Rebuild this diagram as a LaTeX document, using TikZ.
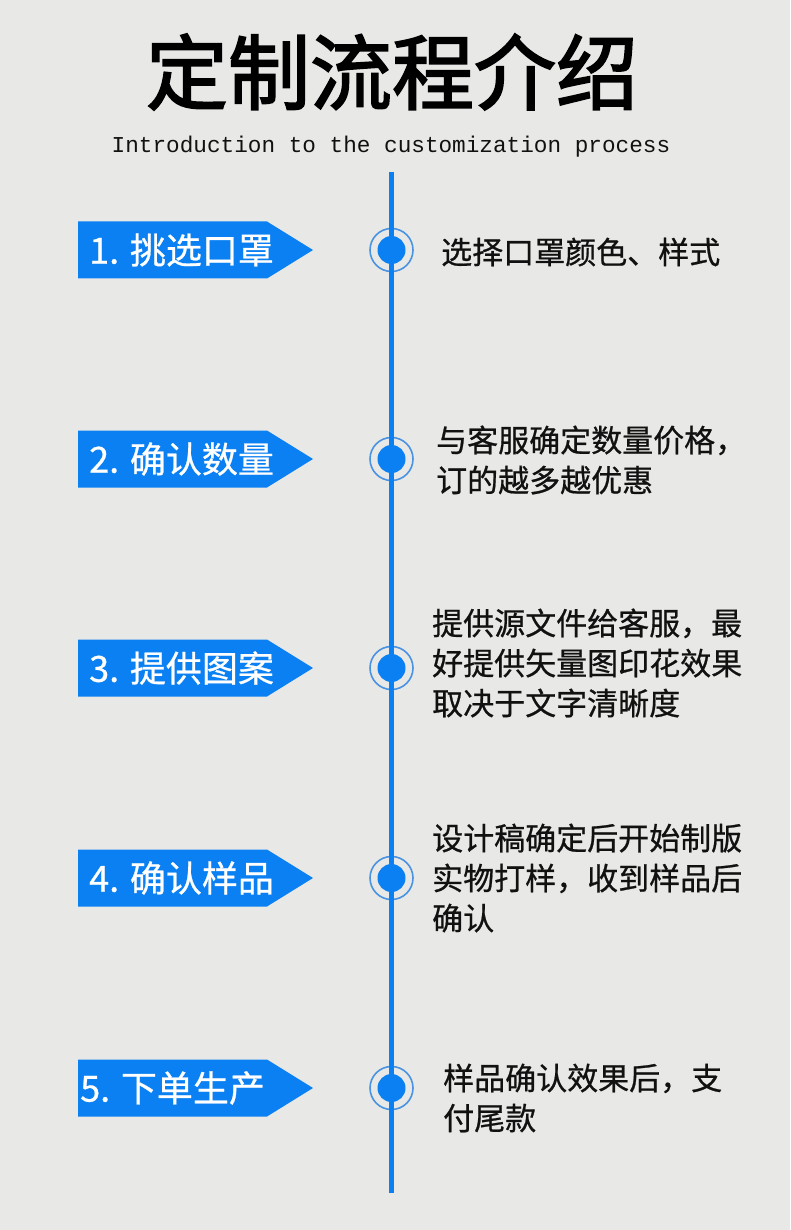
\documentclass[tikz,border=0pt]{standalone}
\usepackage{fontspec}
\setmainfont{Noto Sans CJK SC}
\newfontfamily\cjk[FakeBold=0.7]{Noto Sans CJK SC}
\newfontfamily\cjktitle[FakeBold=2.2]{Noto Sans CJK SC}
\newfontfamily\monof{Liberation Mono}
\definecolor{bg}{HTML}{E8E9E6}
\definecolor{mainblue}{HTML}{0A80F2}
\definecolor{ringblue}{HTML}{4A92E2}
\definecolor{txt}{HTML}{111111}
\begin{document}
\begin{tikzpicture}[x=1pt,y=-1pt,
  banner/.style={fill=mainblue},
  bannertext/.style={anchor=west,inner sep=0pt,text=white,font=\cjk\fontsize{36}{36}\selectfont},
  desc/.style={anchor=west,inner sep=0pt,align=left,text=txt,font=\cjk\fontsize{31}{40}\selectfont},
  ring/.style={draw=ringblue,line width=1.6pt,fill=none,circle,minimum size=43pt,inner sep=0pt},
  dot/.style={fill=mainblue,circle,minimum size=28pt,inner sep=0pt}]
\fill[bg] (0,0) rectangle (790,1230);
\useasboundingbox (0,0) rectangle (790,1230);
\node[inner sep=0pt,text=black,font=\cjktitle\fontsize{82}{82}\selectfont] (title) at (392,72) {定制流程介绍};
\node[inner sep=0pt,text=txt,font=\monof\fontsize{22.7}{24}\selectfont] (sub) at (391,147) {Introduction to the customization process};
% rings
\foreach \i/\y in {1/250,2/459,3/668,4/878,5/1088}{
  \node[ring] (r\i) at (391.5,\y) {};
}
\coordinate (ltop) at (391.5,172);
\coordinate (lbot) at (391.5,1193);
\draw[mainblue,line width=5pt] (ltop) -- (lbot);
\foreach \i/\y in {1/250,2/459,3/668,4/878,5/1088}{
  \node[dot] (c\i) at (391.5,\y) {};
  \fill[banner] (78,\y-28.5) -- (267,\y-28.5) -- (313,\y) -- (267,\y+28.5) -- (78,\y+28.5) -- cycle;
}
\node[bannertext] (b1) at (89,250) {1. 挑选口罩};
\node[bannertext] (b2) at (89,459) {2. 确认数量};
\node[bannertext] (b3) at (89,668) {3. 提供图案};
\node[bannertext] (b4) at (89,878) {4. 确认样品};
\node[bannertext] (b5) at (80,1088) {5. 下单生产};
\node[desc] (d1) at (441,252) {选择口罩颜色、样式};
\node[desc] (d2) at (436,460) {与客服确定数量价格，\\订的越多越优惠};
\node[desc] (d3) at (432,663) {提供源文件给客服，最\\好提供矢量图印花效果\\取决于文字清晰度};
\node[desc] (d4) at (432,878) {设计稿确定后开始制版\\实物打样，收到样品后\\确认};
\node[desc] (d5) at (443,1098) {样品确认效果后，支\\付尾款};
\end{tikzpicture}
\end{document}
